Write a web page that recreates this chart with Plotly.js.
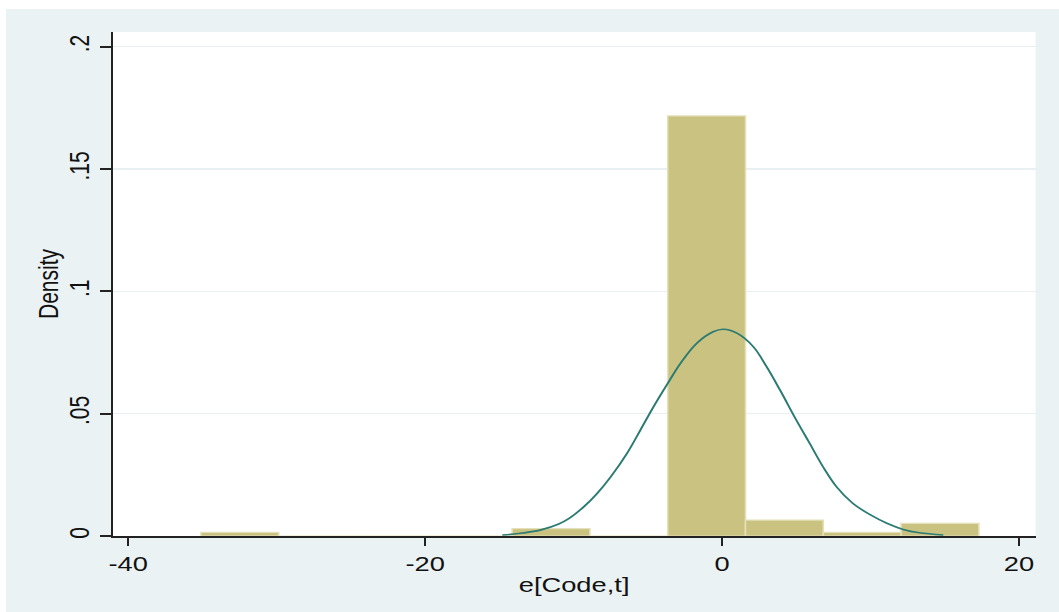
<!DOCTYPE html>
<html>
<head>
<meta charset="utf-8">
<script src="https://cdn.plot.ly/plotly-3.0.1.min.js"></script>
<style>
  html, body { margin: 0; padding: 0; background: #ffffff; width: 1059px; height: 612px; overflow: hidden; }
  #wrap { position: absolute; left: 6px; top: 9px; width: 810px; height: 603px;
          transform: scaleX(1.3); transform-origin: 0 0; }
  #chart { width: 810px; height: 603px; }
</style>
</head>
<body>
<div id="wrap"><div id="chart"></div></div>
<script>
// Histogram bins (left edge of first bin, common width) and densities
const binStart = -35.1;
const binWidth = 5.24;
const binDensity = [0.0015, 0, 0, 0, 0.003, 0, 0.1717, 0.0065, 0.0015, 0.0052];

// Normal density overlay
const normX = [-14.8, -13.7, -12.2, -11.0, -10.3, -9.3, -8.4, -7.5, -6.4, -5.5, -4.6, -3.7, -2.8, -1.7, -0.6, 0.1, 1.0, 2.1, 3.0, 3.9, 5.0, 5.9, 6.8, 7.7, 8.8, 10.0, 11.1, 12.2, 13.3, 14.9];
const normY = [0.0004, 0.001, 0.0025, 0.0049, 0.0072, 0.012, 0.0175, 0.0242, 0.0338, 0.0433, 0.053, 0.062, 0.0706, 0.0788, 0.0835, 0.0845, 0.0829, 0.0774, 0.0692, 0.0597, 0.0474, 0.0379, 0.0283, 0.0202, 0.0134, 0.0086, 0.0052, 0.0027, 0.0013, 0.0004];

// Axis ticks
const xTickVals = [-40, -20, 0, 20];
const xTickText = ['-40', '-20', '0', '20'];
const yTickVals = [0, 0.05, 0.1, 0.15, 0.2];
const yTickText = ['0', '.05', '.1', '.15', '.2'];

const binCenters = binDensity.map((_, i) => binStart + binWidth * (i + 0.5));

const font = "'Liberation Sans', Arial, sans-serif";

const traces = [
  {
    type: 'bar',
    x: binCenters,
    y: binDensity,
    width: binWidth,
    marker: { color: '#cac280', line: { color: '#e4e0b9', width: 1.2 } },
    hoverinfo: 'skip'
  },
  {
    type: 'scatter',
    mode: 'lines',
    x: normX,
    y: normY,
    line: { color: '#2b7b72', width: 1.6, shape: 'spline', smoothing: 1 },
    hoverinfo: 'skip'
  }
];

const layout = {
  width: 810,
  height: 603,
  paper_bgcolor: '#eaf2f3',
  plot_bgcolor: '#ffffff',
  showlegend: false,
  margin: { l: 81.5, r: 17.7, t: 23, b: 76, pad: 0 },
  font: { family: font, size: 21, color: '#111111' },
  bargap: 0,
  xaxis: {
    range: [-41.05, 21.12],
    tickmode: 'array',
    tickvals: xTickVals,
    ticktext: xTickText,
    ticks: 'outside',
    ticklen: 8,
    tickwidth: 1.6,
    tickcolor: '#222222',
    showline: true,
    linecolor: '#222222',
    linewidth: 2,
    showgrid: false,
    zeroline: false,
    tickfont: { family: font, size: 21, color: '#111111' },
    title: { text: 'e[Code,t]', font: { family: font, size: 21, color: '#111111' }, standoff: 3 }
  },
  yaxis: {
    range: [0, 0.206],
    tickmode: 'array',
    tickvals: yTickVals,
    ticktext: yTickText,
    tickangle: -90,
    ticks: 'outside',
    ticklen: 8,
    tickwidth: 2,
    tickcolor: '#222222',
    showline: true,
    linecolor: '#222222',
    linewidth: 1.6,
    showgrid: true,
    gridcolor: '#e8f0f2',
    gridwidth: 1.5,
    zeroline: false,
    tickfont: { family: font, size: 21, color: '#111111' },
    title: { text: 'Density', font: { family: font, size: 21, color: '#111111' }, standoff: 0 }
  }
};

Plotly.newPlot('chart', traces, layout, { displayModeBar: false, staticPlot: true }).then(function () {
  // nudge the y-axis title slightly closer to the tick labels, as in the reference
  const t = document.querySelector('.g-ytitle text');
  if (t) {
    const x = parseFloat(t.getAttribute('x'));
    const tr = t.getAttribute('transform') || '';
    const m = tr.match(/rotate\((-?[\d.]+),\s*(-?[\d.]+),\s*(-?[\d.]+)\)/);
    const nx = x + 1.5;
    t.setAttribute('x', nx);
    if (m) t.setAttribute('transform', 'rotate(' + m[1] + ',' + nx + ',' + m[3] + ')');
  }
});
</script>
</body>
</html>
